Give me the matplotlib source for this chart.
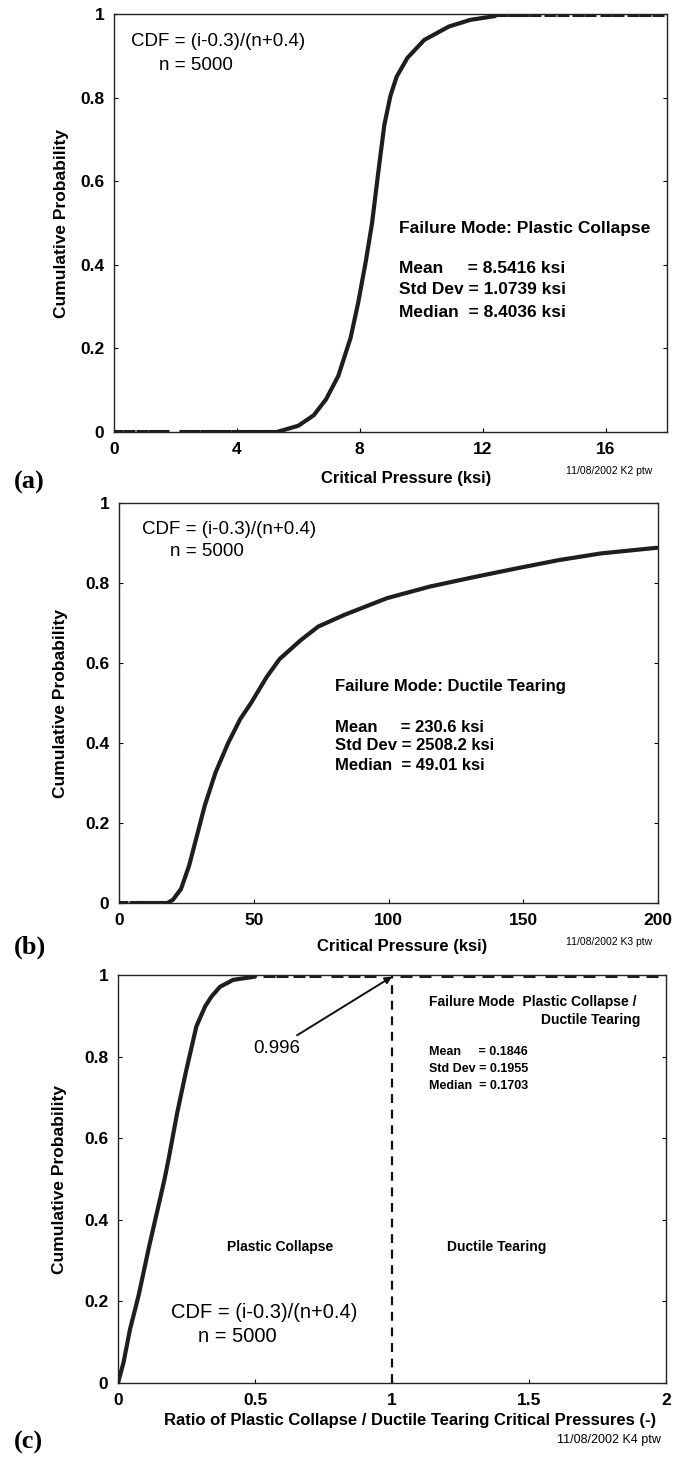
import matplotlib
matplotlib.use("Agg")
import matplotlib.pyplot as plt

plt.rcParams['font.family'] = ['Liberation Sans Narrow', 'Liberation Sans', 'DejaVu Sans']

# (a) plastic collapse critical pressure (ksi) vs cumulative probability
pc_pressure = [5.3, 6.0, 6.5, 6.9, 7.3, 7.7, 7.95, 8.2, 8.4, 8.6, 8.8, 9.0, 9.2, 9.55, 10.1, 10.9, 11.6, 12.4]
pc_prob = [0.0, 0.015, 0.04, 0.078, 0.134, 0.225, 0.31, 0.41, 0.5, 0.62, 0.735, 0.805, 0.85, 0.895, 0.938, 0.97, 0.986, 0.995]
pc_low_tail = [0.1, 0.5, 0.9, 1.3, 1.6, 2.3, 2.6, 3.0, 3.3, 3.6, 4.0, 4.3, 4.6, 4.9, 5.1]
pc_high_tail = [12.6, 13.0, 13.3, 13.7, 14.2, 14.6, 15.1, 15.5, 16.0, 16.4, 16.9, 17.3, 17.7]

# (b) ductile tearing critical pressure (ksi)
dt_pressure = [18, 20, 23, 26, 28.6, 31.8, 35.8, 40.5, 45, 49, 54.8, 59.6, 67.6, 73.9, 83.5, 99.4,
               115.3, 131.2, 147.1, 163, 178.9, 199.5]
dt_prob = [0.0, 0.008, 0.035, 0.093, 0.16, 0.243, 0.326, 0.40, 0.46, 0.5, 0.565, 0.61, 0.658, 0.691,
           0.72, 0.762, 0.791, 0.814, 0.836, 0.857, 0.874, 0.888]
dt_low_tail = [1, 6, 8, 10, 14, 16]

# (c) ratio plastic collapse / ductile tearing
ratio = [0, 0.02, 0.044, 0.075, 0.114, 0.153, 0.17, 0.185, 0.216, 0.247, 0.286, 0.318, 0.341, 0.372, 0.42, 0.5]
ratio_prob = [0, 0.05, 0.132, 0.214, 0.336, 0.45, 0.5, 0.55, 0.662, 0.76, 0.874, 0.923, 0.947, 0.971, 0.988, 0.996]
ratio_high_tail = [0.55, 0.6, 0.66, 0.72, 0.8, 0.86, 0.92, 1.05, 1.12, 1.2, 1.28, 1.35, 1.42, 1.5,
                   1.58, 1.65, 1.72, 1.8, 1.88, 1.95]
ratio_at_one = 0.996

prob_ticks = [0, 0.2, 0.4, 0.6, 0.8, 1]
prob_labels = ['0', '0.2', '0.4', '0.6', '0.8', '1']

W, H = 674, 1459
fig = plt.figure(figsize=(W / 100, H / 100), dpi=100)


def box(l, t, r, b):
    return [l / W, 1 - b / H, (r - l) / W, (b - t) / H]


def ftext(x, y, s, **kw):
    fig.text(x / W, 1 - y / H, s, **kw)


def style(ax, xticks, xlabels, ylabelpad=12):
    ax.set_ylim(0, 1)
    ax.set_yticks(prob_ticks)
    ax.set_yticklabels(prob_labels)
    ax.set_xticks(xticks)
    ax.set_xticklabels(xlabels)
    ax.tick_params(direction='in', length=3, width=0.8, pad=7, labelsize=12.5, right=True)
    for lab in ax.get_xticklabels() + ax.get_yticklabels():
        lab.set_fontweight('bold')
    for sp in ax.spines.values():
        sp.set_linewidth(1.0)
        sp.set_color('#222222')
    ax.set_ylabel('Cumulative Probability', fontsize=12.5, fontweight='bold', labelpad=ylabelpad)


curve_kw = dict(color='#1e1e1e', lw=3.0, solid_capstyle='round')
tail_kw = dict(color='#1e1e1e', ls='none', marker='_', ms=9, mew=2.2)

# ---- (a)
ax1 = fig.add_axes(box(114, 14, 667, 432))
ax1.plot(pc_pressure, pc_prob, **curve_kw)
ax1.plot(pc_low_tail, [0.003] * len(pc_low_tail), **tail_kw)
ax1.plot(pc_high_tail, [0.998] * len(pc_high_tail), **tail_kw)
ax1.set_xlim(0, 18)
style(ax1, [0, 4, 8, 12, 16], ['0', '4', '8', '12', '16'], ylabelpad=8)
ax1.text(0.55, 0.935, 'CDF = (i-0.3)/(n+0.4)', fontsize=13.5, va='center')
ax1.text(1.46, 0.876, 'n = 5000', fontsize=13.5, va='center')
ax1.text(9.28, 0.486, 'Failure Mode: Plastic Collapse', fontsize=12.5, fontweight='bold', va='center')
ax1.text(9.28, 0.392, 'Mean     = 8.5416 ksi', fontsize=12.5, fontweight='bold', va='center')
ax1.text(9.28, 0.340, 'Std Dev = 1.0739 ksi', fontsize=12.5, fontweight='bold', va='center')
ax1.text(9.28, 0.287, 'Median  = 8.4036 ksi', fontsize=12.5, fontweight='bold', va='center')
ftext(406, 479, 'Critical Pressure (ksi)', fontsize=12, fontweight='bold', ha='center', va='center')
ftext(652, 471, '11/08/2002 K2 ptw', fontsize=7.5, ha='right', va='center')
ftext(29, 482, '(a)', fontsize=19, fontweight='bold', family='Liberation Serif', ha='center', va='center')

# ---- (b)
ax2 = fig.add_axes(box(119, 503, 658, 903))
ax2.plot(dt_pressure, dt_prob, **curve_kw)
ax2.plot(dt_low_tail, [0.003] * len(dt_low_tail), **tail_kw)
ax2.set_xlim(0, 200)
style(ax2, [0, 50, 100, 150, 200], ['0', '50', '100', '150', '200'])
ax2.text(8.5, 0.935, 'CDF = (i-0.3)/(n+0.4)', fontsize=13.5, va='center')
ax2.text(18.9, 0.88, 'n = 5000', fontsize=13.5, va='center')
ax2.text(80.1, 0.5425, 'Failure Mode: Ductile Tearing', fontsize=12, fontweight='bold', va='center')
ax2.text(80.1, 0.44, 'Mean     = 230.6 ksi', fontsize=12, fontweight='bold', va='center')
ax2.text(80.1, 0.3925, 'Std Dev = 2508.2 ksi', fontsize=12, fontweight='bold', va='center')
ax2.text(80.1, 0.3425, 'Median  = 49.01 ksi', fontsize=12, fontweight='bold', va='center')
ftext(402, 946, 'Critical Pressure (ksi)', fontsize=12, fontweight='bold', ha='center', va='center')
ftext(652, 942, '11/08/2002 K3 ptw', fontsize=7.5, ha='right', va='center')
ftext(30, 947, '(b)', fontsize=19, fontweight='bold', family='Liberation Serif', ha='center', va='center')

# ---- (c)
ax3 = fig.add_axes(box(118, 975, 666, 1383))
ax3.plot(ratio, ratio_prob, **curve_kw)
ax3.plot(ratio_high_tail, [0.998] * len(ratio_high_tail), **tail_kw)
ax3.axvline(1.0, color='#111111', lw=1.6, ls=(0, (4, 3)))
ax3.set_xlim(0, 2)
style(ax3, [0, 0.5, 1, 1.5, 2], ['0', '0.5', '1', '1.5', '2'])
ax3.annotate('%.3f' % ratio_at_one, xy=(1.0, ratio_at_one), xytext=(0.664, 0.821),
             fontsize=13.5, ha='right', va='center',
             arrowprops=dict(arrowstyle='-|>', color='#111111', lw=1.4, mutation_scale=10, shrinkA=2, shrinkB=0))
ax3.text(1.135, 0.934, 'Failure Mode  Plastic Collapse /', fontsize=10, fontweight='bold', va='center')
ax3.text(1.905, 0.89, 'Ductile Tearing', fontsize=10, fontweight='bold', va='center', ha='right')
ax3.text(1.135, 0.811, 'Mean     = 0.1846', fontsize=9, fontweight='bold', va='center')
ax3.text(1.135, 0.770, 'Std Dev = 0.1955', fontsize=9, fontweight='bold', va='center')
ax3.text(1.135, 0.728, 'Median  = 0.1703', fontsize=9, fontweight='bold', va='center')
ax3.text(0.591, 0.333, 'Plastic Collapse', fontsize=10, fontweight='bold', va='center', ha='center')
ax3.text(1.383, 0.333, 'Ductile Tearing', fontsize=10, fontweight='bold', va='center', ha='center')
ax3.text(0.193, 0.172, 'CDF = (i-0.3)/(n+0.4)', fontsize=14.5, va='center')
ax3.text(0.292, 0.113, 'n = 5000', fontsize=14.5, va='center')
ftext(410, 1421, 'Ratio of Plastic Collapse / Ductile Tearing Critical Pressures (-)',
      fontsize=12, fontweight='bold', ha='center', va='center')
ftext(661, 1440, '11/08/2002 K4 ptw', fontsize=9, ha='right', va='center')
ftext(28, 1442, '(c)', fontsize=19, fontweight='bold', family='Liberation Serif', ha='center', va='center')

fig.savefig('out.png', dpi=100)
